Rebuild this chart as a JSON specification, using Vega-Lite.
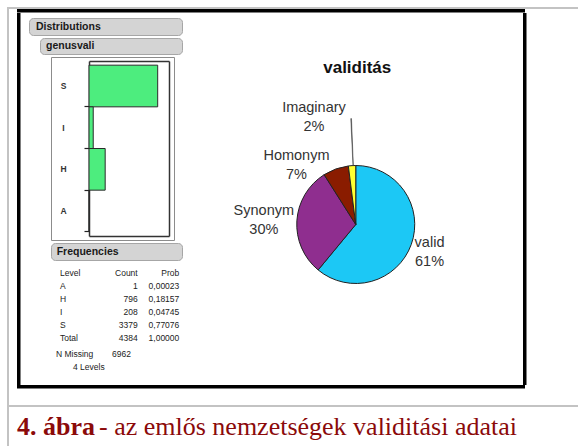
{
  "$schema": "https://vega.github.io/schema/vega-lite/v6.json",
  "background": "white",
  "padding": {"left": 7, "top": 7, "right": 0, "bottom": 0},
  "config": {"view": {"stroke": null}, "font": "Liberation Sans", "concat": {"spacing": 0}},
  "spacing": 0,
  "hconcat": [
    {"width": 2, "height": 439, "data": {"values": []}, "mark": "point", "view": {"fill": "#c3c3c3", "stroke": null}},
    {"spacing": 0, "vconcat": [
      {"width": 569, "height": 2, "data": {"values": []}, "mark": "point", "view": {"fill": "#c3c3c3", "stroke": null}},
      {"spacing": 0, "hconcat": [
        {"width": 8, "height": 1, "data": {"values": []}, "mark": "point"},
        {"spacing": 0, "vconcat": [
          {"width": 508, "height": 3.5, "data": {"values": []}, "mark": "point", "view": {"fill": "#000000", "stroke": null}},
          {"spacing": 0, "hconcat": [
            {"width": 3.5, "height": 372, "data": {"values": []}, "mark": "point", "view": {"fill": "#000000", "stroke": null}},
            {"spacing": 0, "hconcat": [
              {"width": 6.5, "height": 1, "data": {"values": []}, "mark": "point"},
              {"spacing": 1, "vconcat": [
                {"width": 1, "height": 2.5, "data": {"values": []}, "mark": "point"},
                {"width": 153, "height": 17, "view": {"fill": "#d4d4d4", "stroke": "#a6a6a6", "cornerRadius": 4},
                 "data": {"values": [{"t": "Distributions"}]},
                 "mark": {"type": "text", "align": "left", "baseline": "middle", "dx": -69.5, "fontSize": 10.5, "fontWeight": "bold", "color": "#1a1a1a"},
                 "encoding": {"text": {"field": "t"}}},
                {"spacing": 0, "hconcat": [
                  {"width": 10, "height": 1, "data": {"values": []}, "mark": "point"},
                  {"width": 142, "height": 16, "view": {"fill": "#d4d4d4", "stroke": "#a6a6a6", "cornerRadius": 4},
                   "data": {"values": [{"t": "genusvali"}]},
                   "mark": {"type": "text", "align": "left", "baseline": "middle", "dx": -65, "fontSize": 10.5, "fontWeight": "bold", "color": "#1a1a1a"},
                   "encoding": {"text": {"field": "t"}}}
                ]},
                {"spacing": 0, "hconcat": [
                  {"width": 21, "height": 1, "data": {"values": []}, "mark": "point"},
                  {"width": 123, "height": 183, "view": {"fill": "white", "stroke": "#8c8c8c"},
                   "data": {"values": [
                     {"Level": "S", "Count": 3379},
                     {"Level": "I", "Count": 208},
                     {"Level": "H", "Count": 796},
                     {"Level": "A", "Count": 1}
                   ]},
                   "layer": [
                     {"mark": {"type": "bar", "fill": "#4ded7e", "stroke": "#2a2a2a", "strokeWidth": 1},
                      "encoding": {
                        "x": {"field": "Count", "type": "quantitative",
                              "scale": {"domain": [0, 3935], "range": [38, 118], "nice": false},
                              "axis": {"orient": "bottom", "offset": -4, "domain": true, "domainColor": "#333333", "domainWidth": 1.5, "ticks": false, "labels": false, "grid": false, "title": null}},
                        "y": {"field": "Level", "type": "nominal", "sort": ["S", "I", "H", "A"],
                              "scale": {"domain": ["S", "I", "H", "A"], "range": [4, 179], "paddingInner": 0, "paddingOuter": 0.1},
                              "axis": {"orient": "left", "offset": -38, "domain": true, "domainColor": "#333333", "domainWidth": 1.5, "ticks": false, "labelPadding": 26, "labelAlign": "center", "labelFontSize": 8.5, "labelFontWeight": "bold", "labelColor": "#333333", "title": null}}}},
                     {"mark": {"type": "bar", "opacity": 0},
                      "encoding": {
                        "x": {"field": "Count", "type": "quantitative",
                              "axis": {"orient": "top", "offset": -4, "domain": true, "domainColor": "#333333", "domainWidth": 1.5, "ticks": false, "labels": false, "grid": false, "title": null}},
                        "y": {"field": "Level", "type": "nominal", "sort": ["S", "I", "H", "A"],
                              "axis": {"orient": "left", "offset": -38, "domain": false, "ticks": true, "tickSize": 5, "tickColor": "#222222", "tickWidth": 1.2, "bandPosition": 1, "labels": false, "title": null}}}},
                     {"mark": {"type": "bar", "opacity": 0},
                      "encoding": {
                        "x": {"field": "Count", "type": "quantitative", "axis": null},
                        "y": {"field": "Level", "type": "nominal", "sort": ["S", "I", "H", "A"],
                              "axis": {"orient": "right", "offset": -5, "domain": true, "domainColor": "#333333", "domainWidth": 1.5, "ticks": false, "labels": false, "title": null}}}}
                   ],
                   "resolve": {"axis": {"x": "independent", "y": "independent"}}}
                ]},
                {"spacing": 0, "hconcat": [
                  {"width": 21, "height": 1, "data": {"values": []}, "mark": "point"},
                  {"width": 131, "height": 17, "view": {"fill": "#d4d4d4", "stroke": "#a6a6a6", "cornerRadius": 4},
                   "data": {"values": [{"t": "Frequencies"}]},
                   "mark": {"type": "text", "align": "left", "baseline": "middle", "dx": -59.8, "fontSize": 10.5, "fontWeight": "bold", "color": "#1a1a1a"},
                   "encoding": {"text": {"field": "t"}}}
                ]},
                {"spacing": 0, "hconcat": [
                  {"width": 22, "height": 1, "data": {"values": []}, "mark": "point"},
                  {"spacing": 1, "vconcat": [
                    {"width": 131, "height": 87,
                     "data": {"values": [
                       {"Level": "Level", "Count": "Count", "Prob": "Prob"},
                       {"Level": "A", "Count": "1", "Prob": "0,00023"},
                       {"Level": "H", "Count": "796", "Prob": "0,18157"},
                       {"Level": "I", "Count": "208", "Prob": "0,04745"},
                       {"Level": "S", "Count": "3379", "Prob": "0,77076"},
                       {"Level": "Total", "Count": "4384", "Prob": "1,00000"}
                     ]},
                     "encoding": {"y": {"field": "Level", "type": "nominal", "scale": {"type": "point", "domain": ["Level", "A", "H", "I", "S", "Total"], "padding": 0.846}, "axis": null}},
                     "layer": [
                       {"mark": {"type": "text", "align": "left", "baseline": "middle", "dx": -56.5, "fontSize": 8.5, "color": "#222222"}, "encoding": {"text": {"field": "Level"}}},
                       {"mark": {"type": "text", "align": "right", "baseline": "middle", "dx": 21.2, "fontSize": 8.5, "color": "#222222"}, "encoding": {"text": {"field": "Count"}}},
                       {"mark": {"type": "text", "align": "right", "baseline": "middle", "dx": 62.8, "fontSize": 8.5, "color": "#222222"}, "encoding": {"text": {"field": "Prob"}}}
                     ]},
                    {"width": 131, "height": 21,
                     "data": {"values": [
                       {"Label": "N Missing", "Value": "6962"},
                       {"Label": "4 Levels", "Value": ""}
                     ]},
                     "encoding": {"y": {"field": "Label", "type": "nominal", "scale": {"type": "point", "domain": ["N Missing", "4 Levels"], "padding": 0.3077}, "axis": null}},
                     "layer": [
                       {"transform": [{"filter": "datum.Label === 'N Missing'"}], "mark": {"type": "text", "align": "left", "baseline": "middle", "dx": -60.5, "fontSize": 8.5, "color": "#222222"}, "encoding": {"text": {"field": "Label"}}},
                       {"transform": [{"filter": "datum.Label === 'N Missing'"}], "mark": {"type": "text", "align": "left", "baseline": "middle", "dx": -4.5, "fontSize": 8.5, "color": "#222222"}, "encoding": {"text": {"field": "Value"}}},
                       {"transform": [{"filter": "datum.Label === '4 Levels'"}], "mark": {"type": "text", "align": "left", "baseline": "middle", "dx": -43.5, "fontSize": 8.5, "color": "#222222"}, "encoding": {"text": {"field": "Label"}}}
                     ]}
                  ]}
                ]}
              ]},
              {"width": 6, "height": 1, "data": {"values": []}, "mark": "point"},
              {"spacing": 0, "vconcat": [
                {"width": 333.5, "height": 43.5, "data": {"values": []}, "mark": "point"},
                {"width": 333.5, "height": 24,
                 "data": {"values": [{"t": "validitás"}]},
                 "mark": {"type": "text", "align": "center", "baseline": "alphabetic", "dx": 1.5, "dy": 3.5, "fontSize": 17, "fontWeight": "bold", "color": "#111111"},
                 "encoding": {"text": {"field": "t"}}},
                {"width": 333.5, "height": 287,
                 "data": {"values": [
                   {"cat": "valid", "share": 61, "label": "valid\n61%"},
                   {"cat": "Synonym", "share": 30, "label": "Synonym\n30%"},
                   {"cat": "Homonym", "share": 7, "label": "Homonym\n7%"},
                   {"cat": "Imaginary", "share": 2, "label": "Imaginary\n2%"}
                 ]},
                 "layer": [
                   {"mark": {"type": "arc", "outerRadius": 59, "stroke": "#222222", "strokeWidth": 1},
                    "encoding": {
                      "theta": {"field": "share", "type": "quantitative", "stack": true},
                      "order": {"field": "share", "sort": "descending"},
                      "color": {"field": "cat", "type": "nominal", "scale": {"domain": ["valid", "Synonym", "Homonym", "Imaginary"], "range": ["#1cc8f5", "#8f2e8f", "#8a1c00", "#ffff33"]}, "legend": null}}},
                   {"transform": [{"filter": "datum.cat === 'Imaginary'"}],
                    "mark": {"type": "arc", "theta": 6.236, "theta2": 6.243, "innerRadius": 59, "outerRadius": 106, "fill": "#444444", "stroke": "#444444", "strokeWidth": 0.5},
                    "encoding": {}},
                   {"mark": {"type": "text", "radius": 79, "thetaOffset": 0.02, "dy": -9.5, "lineBreak": "\n", "lineHeight": 19, "fontSize": 14.5, "color": "#333333", "align": "center", "baseline": "middle"},
                    "encoding": {
                      "theta": {"field": "share", "type": "quantitative", "stack": true},
                      "order": {"field": "share", "sort": "descending"},
                      "text": {"condition": {"test": "datum.cat === 'valid'", "field": "label"}, "value": ""}}},
                   {"mark": {"type": "text", "radius": 92, "thetaOffset": -0.019, "dy": -9.5, "lineBreak": "\n", "lineHeight": 19, "fontSize": 14.5, "color": "#333333", "align": "center", "baseline": "middle"},
                    "encoding": {
                      "theta": {"field": "share", "type": "quantitative", "stack": true},
                      "order": {"field": "share", "sort": "descending"},
                      "text": {"condition": {"test": "datum.cat === 'Synonym'", "field": "label"}, "value": ""}}},
                   {"mark": {"type": "text", "radius": 83.6, "thetaOffset": -0.443, "dy": -9.5, "lineBreak": "\n", "lineHeight": 19, "fontSize": 14.5, "color": "#333333", "align": "center", "baseline": "middle"},
                    "encoding": {
                      "theta": {"field": "share", "type": "quantitative", "stack": true},
                      "order": {"field": "share", "sort": "descending"},
                      "text": {"condition": {"test": "datum.cat === 'Homonym'", "field": "label"}, "value": ""}}},
                   {"mark": {"type": "text", "radius": 115.3, "thetaOffset": -0.308, "dy": -9.5, "lineBreak": "\n", "lineHeight": 19, "fontSize": 14.5, "color": "#333333", "align": "center", "baseline": "middle"},
                    "encoding": {
                      "theta": {"field": "share", "type": "quantitative", "stack": true},
                      "order": {"field": "share", "sort": "descending"},
                      "text": {"condition": {"test": "datum.cat === 'Imaginary'", "field": "label"}, "value": ""}}}
                 ]}
              ]}
            ]},
            {"width": 3.5, "height": 372, "data": {"values": []}, "mark": "point", "view": {"fill": "#000000", "stroke": null}}
          ]},
          {"width": 508, "height": 3.5, "data": {"values": []}, "mark": "point", "view": {"fill": "#000000", "stroke": null}}
        ]}
      ]},
      {"width": 1, "height": 16, "data": {"values": []}, "mark": "point"},
      {"width": 569, "height": 2, "data": {"values": []}, "mark": "point", "view": {"fill": "#c3c3c3", "stroke": null}},
      {"width": 569, "height": 40,
       "data": {"values": [{"part": "4. ábra", "rest": " - az emlős nemzetségek validitási adatai"}]},
       "layer": [
         {"mark": {"type": "text", "align": "left", "baseline": "alphabetic", "dx": -276.5, "dy": 8.3, "font": "Liberation Serif", "fontSize": 26, "fontWeight": "bold", "color": "#8b0a0a"}, "encoding": {"text": {"field": "part"}}},
         {"mark": {"type": "text", "align": "left", "baseline": "alphabetic", "dx": -194.5, "dy": 8.3, "font": "Liberation Serif", "fontSize": 26, "color": "#8b0a0a"}, "encoding": {"text": {"field": "rest"}}}
       ]}
    ]}
  ]
}
